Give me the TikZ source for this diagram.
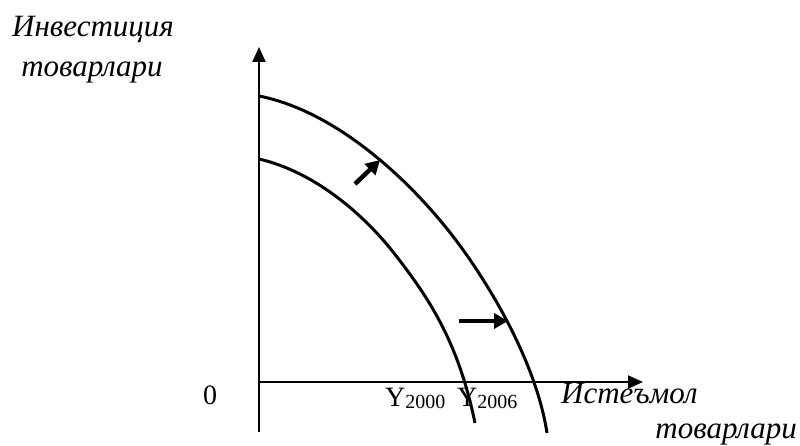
\documentclass[tikz,border=0pt]{standalone}
\usepackage{fontspec}
\setmainfont{Liberation Serif}
\usetikzlibrary{arrows.meta}
\newcommand{\subyr}[1]{\raisebox{-2pt}{\fontsize{20}{24}\selectfont #1}}
\begin{document}
\begin{tikzpicture}[x=1pt,y=-1pt,
  axis/.style={line width=2pt,-{Triangle[length=15pt,width=13pt]}},
  curve/.style={line width=3pt},
  shiftarrow/.style={line width=4.5pt,-{Triangle[length=14pt,width=15pt]}},
  lbl/.style={font=\fontsize{31}{36}\selectfont\itshape,inner sep=0pt},
  num/.style={font=\fontsize{28}{32}\selectfont,inner sep=0pt}]
\useasboundingbox (0,0) rectangle (800,446);
\coordinate (O) at (259,382);
\coordinate (ytop) at (259,47);
\coordinate (ybot) at (259,432);
\coordinate (xend) at (643,382);
\draw[axis] (ybot) -- (ytop);
\draw[axis] (O) -- (xend);
\node[lbl] (ylab1) at (93,29) {Инвестиция};
\node[lbl] (ylab2) at (92,72) {товарлари};
\node[num,anchor=base] (zero) at (210,404) {0};
\node[lbl,anchor=base west] (xlab1) at (561,403) {Истеъмол};
\node[lbl,anchor=base east] (xlab2) at (797,438) {товарлари};
\node[num,anchor=base west] (y2000) at (385,406) {Y\subyr{2000}};
\node[num,anchor=base west] (y2006) at (457,406) {Y\subyr{2006}};
\draw[curve] (259,96) .. controls (330,110) and (400,170) .. (448,230)
             .. controls (480,270) and (535,355) .. (547,433);
\draw[curve] (259,159) .. controls (315,172) and (365,215) .. (397,257)
             .. controls (427,296) and (458,340) .. (475,423);
\coordinate (a1s) at (355,184);
\coordinate (a1e) at (380,160);
\coordinate (a2s) at (459,321);
\coordinate (a2e) at (508,321);
\draw[shiftarrow] (a1s) -- (a1e);
\draw[shiftarrow] (a2s) -- (a2e);
\end{tikzpicture}
\end{document}
